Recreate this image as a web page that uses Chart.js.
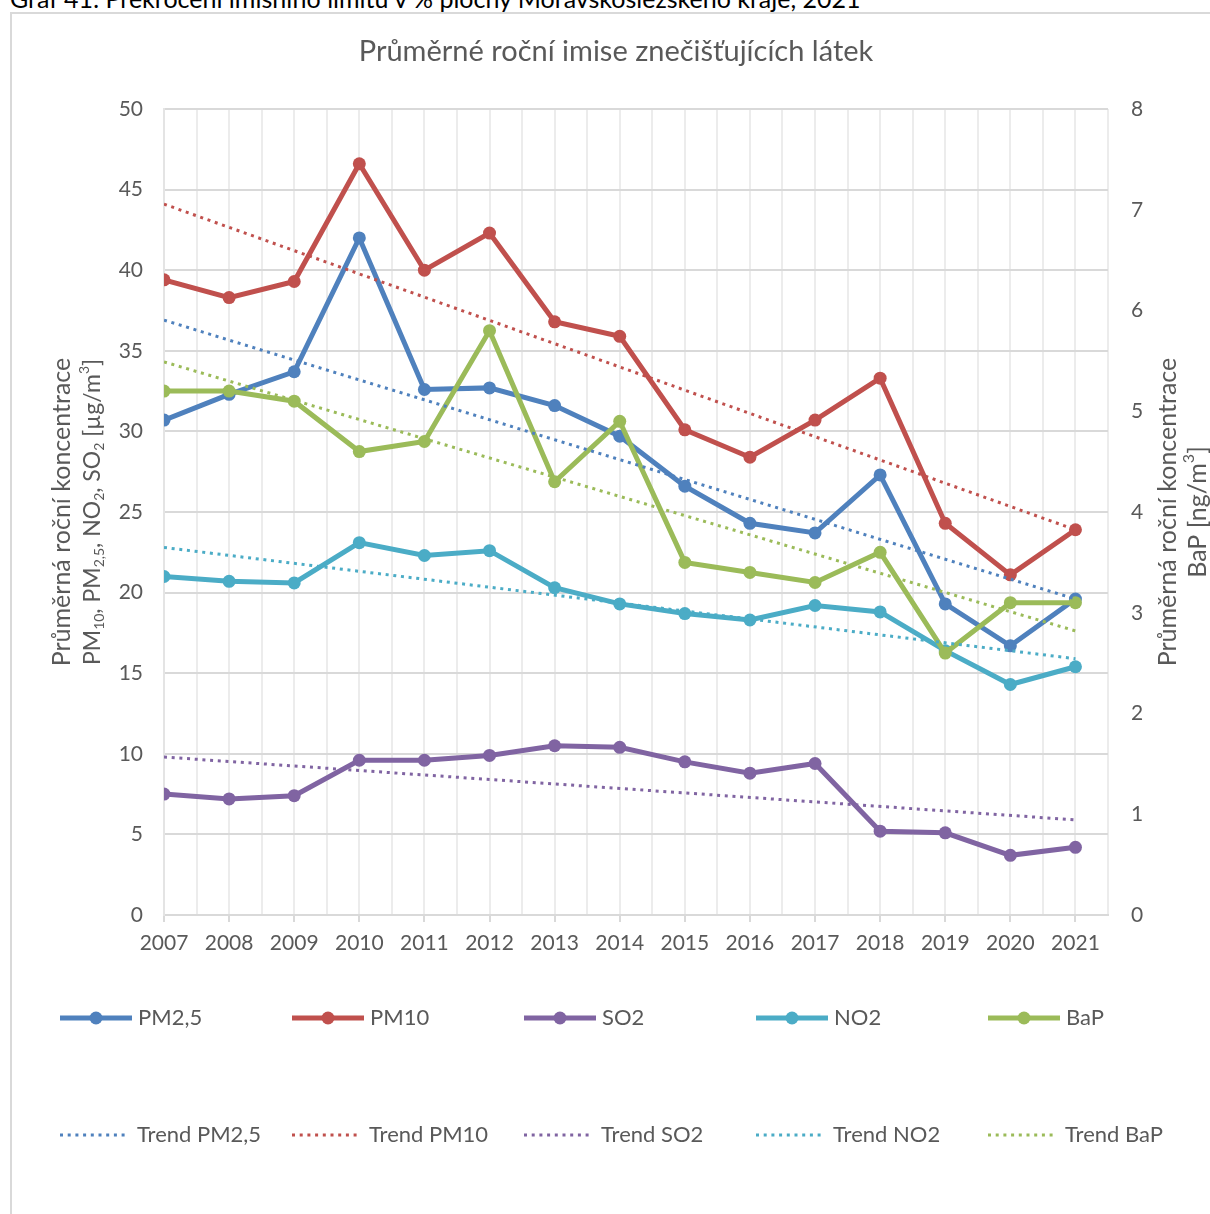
<!DOCTYPE html>
<html lang="cs">
<head>
<meta charset="utf-8">
<title>Průměrné roční imise znečišťujících látek</title>
<script src="https://cdn.jsdelivr.net/npm/chart.js@4.4.1/dist/chart.umd.min.js"></script>
<style>
  html, body { margin: 0; padding: 0; background: #fff; overflow: hidden; }
  body { width: 1210px; height: 1214px; position: relative; font-family: Lato, "Open Sans", sans-serif; }
  .caption { position: absolute; left: 10px; top: -17px; font-size: 25px; color: #000; white-space: nowrap; }
  .frame { position: absolute; left: 10px; top: 12px; width: 1300px; height: 1300px; border: 2px solid #d9d9d9; }
  #chart { position: absolute; left: 0; top: 0; }
</style>
</head>
<body>
<div class="caption">Graf 41: Překročení imisního limitu v % plochy Moravskoslezského kraje, 2021</div>
<div class="frame"></div>
<canvas id="chart" width="1210" height="1214"></canvas>
<script>
// data
const years = [2007, 2008, 2009, 2010, 2011, 2012, 2013, 2014, 2015, 2016, 2017, 2018, 2019, 2020, 2021];
const pm25 = [30.7, 32.3, 33.7, 42.0, 32.6, 32.7, 31.6, 29.7, 26.6, 24.3, 23.7, 27.3, 19.3, 16.7, 19.6];
const pm10 = [39.4, 38.3, 39.3, 46.6, 40.0, 42.3, 36.8, 35.9, 30.1, 28.4, 30.7, 33.3, 24.3, 21.1, 23.9];
const so2 = [7.5, 7.2, 7.4, 9.6, 9.6, 9.9, 10.5, 10.4, 9.5, 8.8, 9.4, 5.2, 5.1, 3.7, 4.2];
const no2 = [21.0, 20.7, 20.6, 23.1, 22.3, 22.6, 20.3, 19.3, 18.7, 18.3, 19.2, 18.8, 16.4, 14.3, 15.4];
const bap = [5.2, 5.2, 5.1, 4.6, 4.7, 5.8, 4.3, 4.9, 3.5, 3.4, 3.3, 3.6, 2.6, 3.1, 3.1];

// trend lines: start (2007) and end (2021) values
const trendYears = [2007, 2021];
const trendPm25 = [36.9, 19.6];
const trendPm10 = [44.1, 23.9];
const trendSo2 = [9.8, 5.9];
const trendNo2 = [22.8, 15.9];
const trendBap = [5.49, 2.82];

const leftTicks = [0, 5, 10, 15, 20, 25, 30, 35, 40, 45, 50];
const rightTicks = [0, 1, 2, 3, 4, 5, 6, 7, 8];

const colors = {
  pm25: '#4f81bd',
  pm10: '#c0504d',
  so2: '#8064a2',
  no2: '#4bacc6',
  bap: '#9bbb59'
};

const FONT = 'Lato, "Open Sans", sans-serif';
const TEXT = '#595959';

function points(xs, ys) {
  return xs.map((x, i) => ({ x: x, y: ys[i] }));
}

function series(label, values, color, axis, order) {
  return {
    label: label,
    data: points(years, values),
    borderColor: color,
    backgroundColor: color,
    borderWidth: 5,
    pointRadius: 6.5,
    pointBorderWidth: 0,
    pointBackgroundColor: color,
    yAxisID: axis,
    order: order,
    tension: 0
  };
}

function trend(label, values, color, axis) {
  return {
    label: label,
    data: points(trendYears, values),
    borderColor: color,
    borderWidth: 3,
    borderDash: [3, 4.7],
    pointRadius: 0,
    yAxisID: axis,
    order: 0,
    trend: true
  };
}

const datasets = [
  series('PM2,5', pm25, colors.pm25, 'y', 5),
  series('PM10', pm10, colors.pm10, 'y', 4),
  series('SO2', so2, colors.so2, 'y', 3),
  series('NO2', no2, colors.no2, 'y', 2),
  series('BaP', bap, colors.bap, 'y1', 1),
  trend('Trend PM2,5', trendPm25, colors.pm25, 'y'),
  trend('Trend PM10', trendPm10, colors.pm10, 'y'),
  trend('Trend SO2', trendSo2, colors.so2, 'y'),
  trend('Trend NO2', trendNo2, colors.no2, 'y'),
  trend('Trend BaP', trendBap, colors.bap, 'y1')
];

// text with sub/superscripts, rotated to read from bottom to top
function drawRich(ctx, segs, cx, cy, size) {
  const small = Math.round(size * 0.62);
  let w = 0;
  segs.forEach(s => {
    ctx.font = `${s.sub || s.sup ? small : size}px ${FONT}`;
    w += ctx.measureText(s.t).width;
  });
  ctx.save();
  ctx.translate(cx, cy);
  ctx.rotate(-Math.PI / 2);
  ctx.fillStyle = TEXT;
  ctx.textBaseline = 'middle';
  ctx.textAlign = 'left';
  let x = -w / 2;
  segs.forEach(s => {
    ctx.font = `${s.sub || s.sup ? small : size}px ${FONT}`;
    const dy = s.sub ? size * 0.3 : (s.sup ? -size * 0.35 : 0);
    ctx.fillText(s.t, x, dy);
    x += ctx.measureText(s.t).width;
  });
  ctx.restore();
}

const decorPlugin = {
  id: 'decor',
  afterDraw(chart) {
    const ctx = chart.ctx;
    const area = chart.chartArea;
    const midY = (area.top + area.bottom) / 2;

    // title
    ctx.save();
    ctx.fillStyle = TEXT;
    ctx.font = `29px ${FONT}`;
    ctx.textAlign = 'center';
    ctx.textBaseline = 'middle';
    ctx.fillText('Průměrné roční imise znečišťujících látek', 616, 52);
    ctx.restore();

    // axis titles
    drawRich(ctx, [{ t: 'Průměrná roční koncentrace' }], 62, midY, 25);
    drawRich(ctx, [
      { t: 'PM' }, { t: '10', sub: true }, { t: ', PM' }, { t: '2,5', sub: true },
      { t: ', NO' }, { t: '2', sub: true }, { t: ', SO' }, { t: '2', sub: true },
      { t: ' [µg/m' }, { t: '3', sup: true }, { t: ']' }
    ], 93, midY, 23);
    drawRich(ctx, [{ t: 'Průměrná roční koncentrace' }], 1168, midY, 25);
    drawRich(ctx, [{ t: 'BaP [ng/m' }, { t: '3', sup: true }, { t: ']' }], 1198, midY, 25);

    // legend, two rows of five
    const cols = [60, 292, 524, 756, 988];
    ctx.save();
    ctx.font = `22px ${FONT}`;
    ctx.textBaseline = 'middle';
    ctx.textAlign = 'left';
    datasets.forEach((ds, i) => {
      const col = cols[i % 5];
      if (!ds.trend) {
        const y = 1018;
        ctx.strokeStyle = ds.borderColor;
        ctx.lineWidth = 5;
        ctx.setLineDash([]);
        ctx.beginPath();
        ctx.moveTo(col, y);
        ctx.lineTo(col + 72, y);
        ctx.stroke();
        ctx.fillStyle = ds.borderColor;
        ctx.beginPath();
        ctx.arc(col + 36, y, 6.5, 0, Math.PI * 2);
        ctx.fill();
        ctx.fillStyle = TEXT;
        ctx.fillText(ds.label, col + 78, y);
      } else {
        const y = 1135;
        ctx.strokeStyle = ds.borderColor;
        ctx.lineWidth = 3;
        ctx.setLineDash([3, 4.7]);
        ctx.beginPath();
        ctx.moveTo(col, y);
        ctx.lineTo(col + 68, y);
        ctx.stroke();
        ctx.setLineDash([]);
        ctx.fillStyle = TEXT;
        ctx.fillText(ds.label, col + 77, y);
      }
    });
    ctx.restore();
  }
};

new Chart(document.getElementById('chart'), {
  type: 'line',
  data: { datasets: datasets },
  plugins: [decorPlugin],
  options: {
    responsive: false,
    animation: false,
    devicePixelRatio: 1,
    layout: { padding: { top: 109, left: 0, right: 0, bottom: 0 } },
    plugins: {
      legend: { display: false },
      title: { display: false },
      tooltip: { enabled: false }
    },
    scales: {
      x: {
        type: 'linear',
        min: years[0],
        max: years[years.length - 1] + 0.5,
        afterFit(scale) { scale.height = 1214 - 915; },
        afterBuildTicks(scale) {
          const t = [];
          for (let v = years[0]; v <= years[years.length - 1] + 0.5; v += 0.5) t.push({ value: v });
          scale.ticks = t;
        },
        ticks: {
          autoSkip: false,
          maxRotation: 0,
          color: TEXT,
          font: { family: FONT, size: 21 },
          padding: 9,
          callback: v => (Number.isInteger(v) ? String(v) : '')
        },
        grid: {
          color: '#ececec',
          lineWidth: 2,
          tickLength: 7,
          tickColor: c => (c.tick && Number.isInteger(c.tick.value) && c.tick.value <= years[years.length - 1] ? '#d9d9d9' : 'rgba(0,0,0,0)')
        },
        border: { display: true, color: '#d9d9d9', width: 2 }
      },
      y: {
        position: 'left',
        min: 0,
        max: 50,
        afterFit(scale) { scale.width = 164; },
        afterBuildTicks(scale) { scale.ticks = leftTicks.map(v => ({ value: v })); },
        ticks: {
          color: TEXT,
          font: { family: FONT, size: 21 },
          padding: 21
        },
        grid: { color: '#d9d9d9', lineWidth: 2, drawTicks: false },
        border: { display: true, color: '#e4e4e4', width: 2 }
      },
      y1: {
        position: 'right',
        min: 0,
        max: 8,
        afterFit(scale) { scale.width = 1210 - 1108; },
        afterBuildTicks(scale) { scale.ticks = rightTicks.map(v => ({ value: v })); },
        ticks: {
          color: TEXT,
          font: { family: FONT, size: 21 },
          padding: 23
        },
        grid: { drawOnChartArea: false, drawTicks: false },
        border: { display: false }
      }
    }
  }
});
</script>
</body>
</html>
